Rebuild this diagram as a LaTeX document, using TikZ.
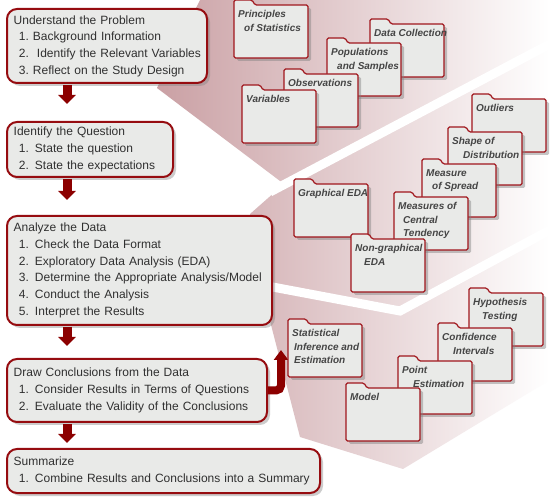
\documentclass[tikz,border=0pt]{standalone}
\usepackage{fontspec}
\setmainfont{Liberation Sans}
\usepackage{tikz}
\usetikzlibrary{arrows.meta,shadows}

\definecolor{stagered}{RGB}{150,12,16}
\definecolor{stagegray}{RGB}{233,234,232}
\definecolor{cardred}{RGB}{160,22,28}
\definecolor{inkgray}{RGB}{48,48,48}
\definecolor{flowred}{RGB}{140,0,0}
\definecolor{rose}{RGB}{202,160,164}

\newcommand{\itm}[3][16pt]{\mbox{\hspace*{5.3pt}\makebox[#1][l]{#2}#3}}
\newcommand{\folder}[3]{%
  \coordinate (#2) at #1;
  \filldraw[card] (#2) ++(0,53) -- ++(0,-58) -- ++(18,0) -- ++(3,5) -- ++(53,0) -- ++(0,53) -- cycle;
  \node[cardtext] (#2-txt) at ([shift={(4,5.5)}]#2) {#3};}

\begin{document}
\begin{tikzpicture}[x=1pt,y=-1pt,
  stage/.style={draw=stagered, line width=2pt, fill=stagegray, rounded corners=10pt, anchor=north west, align=left, inner xsep=6.7pt, text=inkgray, font=\fontsize{12}{16.7}\selectfont, drop shadow={shadow xshift=3pt,shadow yshift=-3pt,opacity=.4}},
  card/.style={draw=cardred, line width=1.2pt, fill=stagegray, rounded corners=1.5pt, drop shadow={shadow xshift=3pt,shadow yshift=-3pt,opacity=.45}},
  cardtext/.style={anchor=north west, inner sep=0pt, align=left, text=inkgray!90, font=\fontsize{10}{13.3}\selectfont\bfseries\itshape},
  flow/.style={flowred, line width=9pt, -{Triangle[length=9pt,width=17pt]}, shorten <=1pt}]
  \useasboundingbox[fill=white] (0,0) rectangle (550,500);
  \shade[left color=rose, right color=white] (200,0) -- (550,0) -- (550,380) -- (403,469) -- (300,437) -- (262,290) -- (250,214) -- (284,184) -- (157,88) -- cycle;
  \draw[white, line width=9pt] (270,192) -- (550,44);
  \draw[white, line width=9pt] (262,285) -- (400,311) -- (550,230);

  \node[stage, text width=186.6pt, minimum height=74pt] (und) at (6,8) {Understand the Problem\\ \itm[14pt]{1.}{Background Information}\\ \itm[14pt]{2.}{\ Identify the Relevant Variables}\\ \itm[14pt]{3.}{Reflect on the Study Design}};
  \node[stage, text width=152.6pt, minimum height=55pt] (ident) at (6,121) {Identify the Question\\ \itm{1.}{State the question}\\ \itm{2.}{State the expectations}};
  \node[stage, text width=251.6pt, minimum height=109pt] (anal) at (6,215) {Analyze the Data\\ \itm{1.}{Check the Data Format}\\ \itm{2.}{Exploratory Data Analysis (EDA)}\\ \itm{3.}{Determine the Appropriate Analysis/Model}\\ \itm{4.}{Conduct the Analysis}\\ \itm{5.}{Interpret the Results}};
  \node[stage, text width=246.6pt, minimum height=63pt] (concl) at (6,358) {Draw Conclusions from the Data\\ \itm{1.}{Consider Results in Terms of Questions}\\ \itm{2.}{Evaluate the Validity of the Conclusions}};
  \node[stage, text width=299.6pt, minimum height=44pt] (summ) at (6,448) {Summarize\\ \itm{1.}{Combine Results and Conclusions into a Summary}};

  \coordinate (ax) at (67,0);
  \coordinate (tipinf) at (281,350);
  \path[flow]
  (und.south -| ax) edge[shorten >=17pt] (ident.north -| ax)
  (ident.south -| ax) edge[shorten >=15pt] (anal.north -| ax)
  (anal.south -| ax) edge[shorten >=12pt] (concl.north -| ax)
  (concl.south -| ax) edge[shorten >=5pt] (summ.north -| ax);
  \draw[flowred, line width=8pt, rounded corners=5pt, -{Triangle[length=10pt,width=14pt]}] (concl.east) -| (tipinf);

  \folder{(234,5)}{princ}{Principles\\\hspace*{6pt}of Statistics}
  \folder{(370,24)}{datac}{Data Collection}
  \folder{(327,43)}{popul}{Populations\\\hspace*{6pt}and Samples}
  \folder{(284,74)}{obser}{Observations}
  \folder{(242,90)}{varia}{Variables}

  \folder{(472,99)}{outl}{Outliers}
  \folder{(448,132)}{shape}{Shape of\\\hspace*{11pt}Distribution}
  \folder{(422,164)}{spread}{Measure\\\hspace*{6pt}of Spread}
  \folder{(394,197)}{centr}{Measures of\\\hspace*{5pt}Central\\\hspace*{5pt}Tendency}
  \folder{(294,184)}{graph}{Graphical EDA}
  \folder{(351,239)}{nongr}{Non-graphical\\\hspace*{9pt}EDA}

  \folder{(469,293)}{hypo}{Hypothesis\\\hspace*{9pt}Testing}
  \folder{(438,328)}{conf}{Confidence\\\hspace*{11pt}Intervals}
  \folder{(398,361)}{point}{Point\\\hspace*{11pt}Estimation}
  \folder{(346,388)}{model}{Model}
  \folder{(288,324)}{infer}{Statistical\\\hspace*{2pt}Inference and\\\hspace*{2pt}Estimation}
\end{tikzpicture}
\end{document}
